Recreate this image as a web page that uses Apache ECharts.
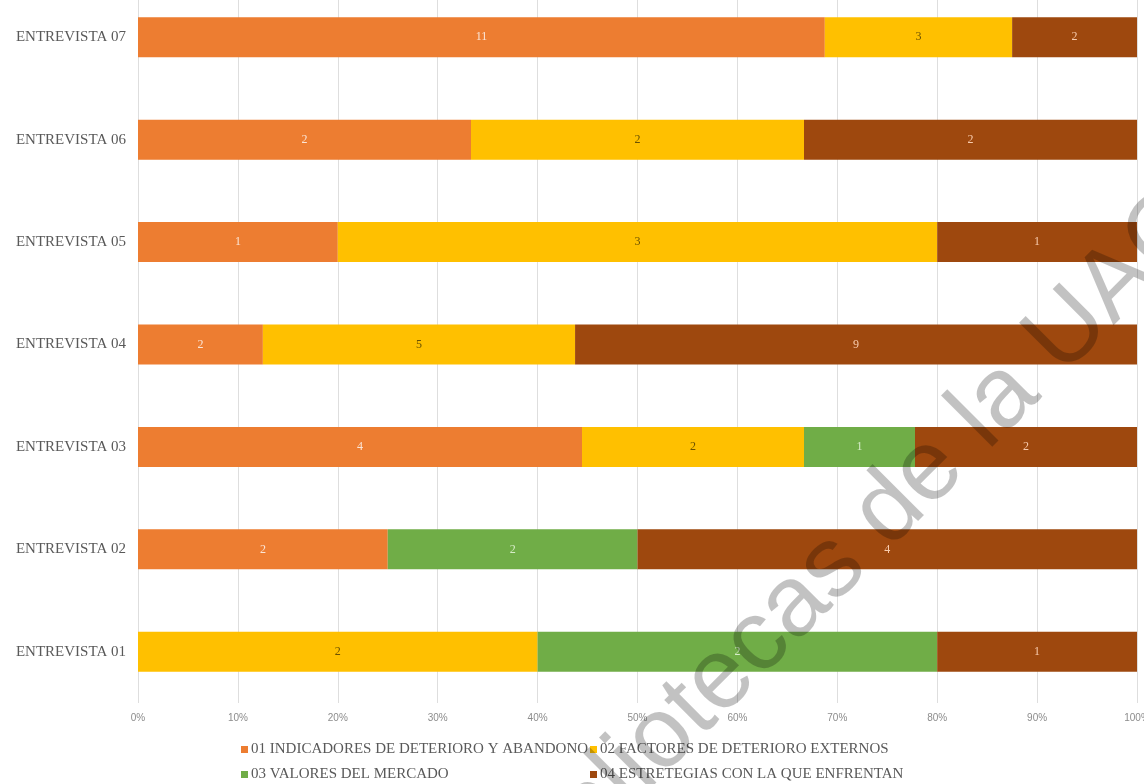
<!DOCTYPE html>
<html>
<head>
<meta charset="utf-8">
<script src="https://cdn.jsdelivr.net/npm/echarts@6/dist/echarts.min.js"></script>
<style>
  html, body { margin: 0; padding: 0; background: #ffffff; }
  #chart { width: 1144px; height: 784px; }
</style>
</head>
<body>
<div id="chart"></div>
<script>
// Interviews, bottom to top
const categories = ['ENTREVISTA 01', 'ENTREVISTA 02', 'ENTREVISTA 03', 'ENTREVISTA 04', 'ENTREVISTA 05', 'ENTREVISTA 06', 'ENTREVISTA 07'];

// Code counts per theme for each interview
const seriesNames = [
  '01 INDICADORES DE DETERIORO Y ABANDONO',
  '02 FACTORES DE DETERIORO EXTERNOS',
  '03 VALORES DEL MERCADO',
  '04 ESTRETEGIAS CON LA QUE ENFRENTAN'
];
const indicadores = [0, 2, 4, 2, 1, 2, 11];
const factores    = [2, 0, 2, 5, 3, 2, 3];
const valores     = [2, 2, 1, 0, 0, 0, 0];
const estrategias = [1, 4, 2, 9, 1, 2, 2];

const xTicks = [0, 10, 20, 30, 40, 50, 60, 70, 80, 90, 100];

const colors = ['#ED7D31', '#FFC000', '#70AD47', '#9E480E'];
const labelColors = ['#fbe5d6', '#6b5200', '#d6ecc8', '#f8cbad'];

const raw = [indicadores, factores, valores, estrategias];
const totals = categories.map((_, i) => raw.reduce((s, arr) => s + arr[i], 0));

const serif = '"Liberation Serif", "DejaVu Serif", serif';

const series = raw.map((arr, k) => ({
  name: seriesNames[k],
  type: 'bar',
  stack: 'total',
  barWidth: 40,
  itemStyle: { color: colors[k] },
  label: {
    show: true,
    position: 'inside',
    fontFamily: serif,
    fontSize: 12,
    color: labelColors[k],
    formatter: p => (arr[p.dataIndex] ? String(arr[p.dataIndex]) : '')
  },
  data: arr.map((v, i) => (v ? v / totals[i] * 100 : 0))
}));

const legendPos = [
  { left: 241, top: 742 },
  { left: 590, top: 742 },
  { left: 241, top: 767 },
  { left: 590, top: 767 }
];

const chart = echarts.init(document.getElementById('chart'), null, { renderer: 'canvas' });
chart.setOption({
  animation: false,
  backgroundColor: '#ffffff',
  color: colors,
  grid: { left: 138, right: 7, top: -14, bottom: 81, containLabel: false, outerBoundsMode: 'none' },
  xAxis: {
    type: 'value',
    min: xTicks[0],
    max: xTicks[xTicks.length - 1],
    interval: 10,
    axisLine: { show: false },
    axisTick: { show: false },
    splitLine: { lineStyle: { color: '#dedede', width: 1 } },
    axisLabel: {
      margin: 10,
      fontFamily: '"Liberation Sans", Arial, sans-serif',
      fontSize: 10,
      color: '#8c8c8c',
      formatter: '{value}%'
    }
  },
  yAxis: {
    type: 'category',
    data: categories,
    axisLine: { show: false },
    axisTick: { show: false },
    axisLabel: {
      margin: 12,
      fontFamily: serif,
      fontSize: 15,
      color: '#595959'
    }
  },
  legend: seriesNames.map((n, k) => ({
    data: [n],
    left: legendPos[k].left,
    top: legendPos[k].top,
    icon: 'rect',
    itemWidth: 7,
    itemHeight: 7,
    padding: 0,
    selectedMode: false,
    textStyle: { fontFamily: serif, fontSize: 15, color: '#595959', padding: [0, 0, 0, -2] }
  })),
  graphic: [{
    type: 'text',
    x: 852,
    y: 548,
    rotation: Math.PI / 4,
    z: 100,
    silent: true,
    style: {
      text: 'Bibliotecas de la UAQ',
      x: 0,
      y: 0,
      align: 'center',
      verticalAlign: 'middle',
      font: '100px "Liberation Sans", Arial, sans-serif',
      fill: 'rgba(0,0,0,0.24)'
    }
  }],
  series: series
});
</script>
</body>
</html>
